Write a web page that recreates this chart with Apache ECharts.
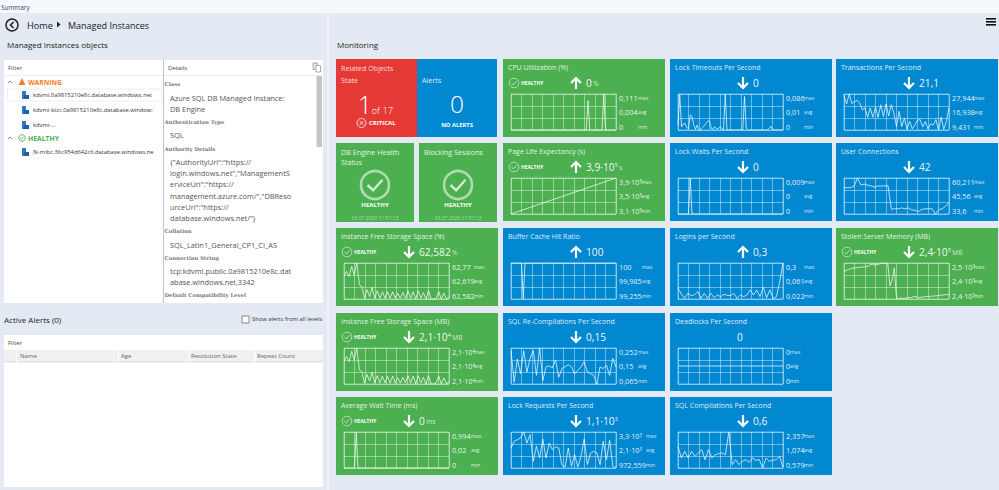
<!DOCTYPE html>
<html>
<head>
<meta charset="utf-8">
<title>Managed Instances</title>
<script src="https://cdn.jsdelivr.net/npm/echarts@6/dist/echarts.min.js"></script>
<style>
  html, body { margin: 0; padding: 0; background: #e4eaf3; }
  #main { width: 999px; height: 490px; }
</style>
</head>
<body>
<div id="main"></div>
<script>
// series
const cpuValues = [0,0,0,0,0,0,0,0,0,0,0,0,0,0,0,0,0,0,0,0,0,0,0,0,0,0,0,0,0,0,0,0,0,0,0,0,0,0,0,0,0,0,0,0,0.09,0,0,0,0,0,0,0,0,0.111,0,0,0,0,0,0,0]
const pageLifeValues = [310000,318000,326000,334000,342000,350000,358000,366000,374000,382000,390000]
const lockTimeoutValues = [0.012,0.084,0.008,0.014,0.016,0.006,0.003,0.036,0.032,0.012,0.002,0.012,0.001,0.001,0.006,0.01,0.016,0.021,0.022,0.004,0.001,0.008,0.003,0.003,0.008,0.003,0,0.086,0,0,0,0,0,0,0,0,0,0,0.08,0.004,0,0,0,0,0,0,0,0,0,0,0,0,0.003,0.009,0.002,0,0,0,0,0,0]
const lockWaitValues = [0,0,0,0,0,0,0,0.009,0,0,0,0,0,0,0,0,0,0,0,0,0,0,0,0,0,0,0,0,0,0,0,0,0,0,0,0,0,0,0,0,0,0,0,0,0,0,0,0,0,0,0,0,0,0,0,0,0,0,0,0,0]
const transactionValues = [27.3,22.9,27.944,23,24.1,24.7,23.3,19.8,20.7,16,20.7,16,21.2,16,22.4,16.4,22.9,16.7,22.4,18.1,11.2,19,11.2,15.5,9.8,13.8,10.1,12,14.4,14.8,11,13.8,10,12.6,12.1,14.8,9.431,16,9.8,13.8,20.8]
const userConnectionValues = [53.2,53,53.1,54.4,60.211,55,55.7,54.9,54.4,53.4,54.4,54.2,54.4,54.4,37,37.6,37.4,38.1,37.4,38.1,36.6,36.4,35.4,37.1,37.4,37.4,37.6,33.6,36.9,37.4,39.4,41.9]
const freePctValues = [62.70,62.726,62.70,62.752,62.708,62.77,62.656,62.647,62.586,62.63,62.594,62.643,62.586,62.625,62.586,62.62,62.586,62.62,62.586,62.62,62.586,62.612,62.586,62.615,62.586,62.625,62.586,62.62,62.582,62.625,62.586,62.615,62.582,62.625,62.582,62.582,62.586,62.62,62.582,62.612,62.582,62.594]
const freeMbValues = [21067,21076,21067,21085,21070,21091,21052,21049,21029,21044,21032,21048,21029,21042,21029,21041,21029,21041,21029,21041,21029,21038,21029,21039,21029,21042,21029,21041,21027,21042,21029,21039,21027,21042,21027,21027,21029,21041,21027,21038,21027,21032]
const bufferCacheValues = [100,100,100,100,100,100,100,99.255,100,100,100,100,100,100,100,100,100,100,100,100,100,100,100,100,100,100,100,100,100,100,100,100,100,100,100,100,100,100,100,100,100,100,100,100,100,100,100,100,100,100,100,100,100,100,100,100,100,100,100,100,100]
const recompileValues = [0.238,0.074,0.195,0.118,0.238,0.127,0.198,0.238,0.11,0.252,0.083,0.154,0.159,0.149,0.19,0.1,0.145,0.155,0.166,0.154,0.118,0.136,0.154,0.181,0.127,0.118,0.11,0.065,0.154,0.145,0.163,0.11,0.198,0.154]
const loginValues = [0.105,0.061,0.027,0.066,0.048,0.054,0.079,0.027,0.066,0.027,0.066,0.032,0.053,0.04,0.058,0.05,0.048,0.066,0.027,0.053,0.04,0.053,0.092,0.053,0.092,0.04,0.113,0.032,0.092,0.027,0.04,0.157,0.3]
const stolenValues = [2477,2479,2482,2484,2486,2486,2487,2488,2489,2489,2490,2491,2495,2497,2494,2496,2497,2500,2500,2500,2500,2437,2452,2486,2402,2402,2402,2402,2402,2403,2404,2404,2408,2406,2404,2405,2405,2406,2407,2407,2408,2408,2409,2409,2410,2411,2412,2412,2413]
const deadlockValues = [0,0,0,0,0,0,0,0,0,0,0]
const waitTimeValues = [0,0,0,0,0,0,0,0.994,0,0,0,0,0,0,0,0,0,0,0,0,0,0,0,0,0,0,0,0,0,0,0,0,0,0,0,0,0,0,0,0,0,0,0,0,0,0,0,0,0,0,0,0,0,0,0,0,0,0,0,0,0]
const lockRequestValues = [2266,2697,2804,2912,3300,2589,3128,1404,2373,1619,2847,1619,2589,2158,2330,2266,1188,1037,2266,1080,1835,1037,1727,2847,1188,1942,2050,1942,1188,2697,1511,2761,1080,973]
const compileValues = [1.649,1.073,1.402,1.073,1.402,1.155,1.32,1.484,0.99,1.484,1.073,1.237,1.287,1.32,1.237,2.357,0.744,0.99,0.744,0.908,0.99,0.859,1.073,0.958,0.99,0.579,1.073,0.908,0.958,0.99,1.155,0.628]

const GREEN = '#4caf50'
const BLUE = '#0288d1'
const RED = '#e53935'
const FONT = '"Open Sans", "Noto Sans", sans-serif'

// metric tiles: title, current value, unit, trend, label columns, series
const tiles = [
  { title: 'CPU Utilization (%)', x: 503, y: 59, color: GREEN, healthy: true, arrow: 'up', value: '0', unit: '%', labels: ['0,111', '0,004', '0'], unitX: 135, data: cpuValues, yMin: 0, yMax: 0.111 },
  { title: 'Lock Timeouts Per Second', x: 670, y: 59, color: BLUE, arrow: 'down', value: '0', labels: ['0,086', '0,01', '0'], unitX: 134, data: lockTimeoutValues, yMin: 0, yMax: 0.086 },
  { title: 'Transactions Per Second', x: 836, y: 59, color: BLUE, arrow: 'down', value: '21,1', labels: ['27,944', '16,938', '9,431'], unitX: 138, data: transactionValues, yMin: 9.431, yMax: 27.944 },
  { title: 'Page Life Expectancy (s)', x: 503, y: 143, color: GREEN, healthy: true, arrow: 'up', value: '3,9·10⁵', unit: 's', labels: ['3,9·10⁵', '3,5·10⁵', '3,1·10⁵'], unitX: 138, data: pageLifeValues, yMin: 310000, yMax: 390000 },
  { title: 'Lock Waits Per Second', x: 670, y: 143, color: BLUE, arrow: 'down', value: '0', labels: ['0,009', '0', '0'], unitX: 134, data: lockWaitValues, yMin: 0, yMax: 0.009 },
  { title: 'User Connections', x: 836, y: 143, color: BLUE, arrow: 'down', value: '42', labels: ['60,211', '45,56', '33,6'], unitX: 138, data: userConnectionValues, yMin: 33.6, yMax: 60.211 },
  { title: 'Instance Free Storage Space (%)', x: 336, y: 228, color: GREEN, healthy: true, arrow: 'down', value: '62,582', unit: '%', labels: ['62,77', '62,619', '62,582'], unitX: 138, data: freePctValues, yMin: 62.582, yMax: 62.77 },
  { title: 'Buffer Cache Hit Ratio', x: 503, y: 228, color: BLUE, arrow: 'up', value: '100', labels: ['100', '99,985', '99,255'], unitX: 139, data: bufferCacheValues, yMin: 99.255, yMax: 100 },
  { title: 'Logins per Second', x: 670, y: 228, color: BLUE, arrow: 'up', value: '0,3', labels: ['0,3', '0,061', '0,022'], unitX: 134, data: loginValues, yMin: 0.022, yMax: 0.3 },
  { title: 'Stolen Server Memory (MB)', x: 836, y: 228, color: GREEN, healthy: true, arrow: 'down', value: '2,4·10³', unit: 'MB', labels: ['2,5·10³', '2,4·10³', '2,4·10³'], unitX: 138, data: stolenValues, yMin: 2400, yMax: 2500 },
  { title: 'Instance Free Storage Space (MB)', x: 336, y: 313, color: GREEN, healthy: true, arrow: 'down', value: '2,1·10⁴', unit: 'MB', labels: ['2,1·10⁴', '2,1·10⁴', '2,1·10⁴'], unitX: 138, data: freeMbValues, yMin: 21027, yMax: 21091 },
  { title: 'SQL Re-Compilations Per Second', x: 503, y: 313, color: BLUE, arrow: 'down', value: '0,15', labels: ['0,252', '0,15', '0,065'], unitX: 135, data: recompileValues, yMin: 0.065, yMax: 0.252 },
  { title: 'Deadlocks Per Second', x: 670, y: 313, color: BLUE, value: '0', labels: ['0', '0', '0'], unitX: 120, data: deadlockValues, yMin: -1, yMax: 1 },
  { title: 'Average Wait Time (ms)', x: 336, y: 397, color: GREEN, healthy: true, arrow: 'down', value: '0', unit: 'ms', labels: ['0,994', '0,02', '0'], unitX: 135, data: waitTimeValues, yMin: 0, yMax: 0.994 },
  { title: 'Lock Requests Per Second', x: 503, y: 397, color: BLUE, arrow: 'down', value: '1,1·10³', labels: ['3,3·10³', '2,1·10³', '972,559'], unitX: 143, data: lockRequestValues, yMin: 972.559, yMax: 3300 },
  { title: 'SQL Compilations Per Second', x: 670, y: 397, color: BLUE, arrow: 'down', value: '0,6', labels: ['2,357', '1,074', '0,579'], unitX: 134, data: compileValues, yMin: 0.579, yMax: 2.357 },
]
const unitNames = ['max', 'avg', 'min']

const detailLabels = [['Class', 84], ['Authentication Type', 122], ['Authority Details', 149], ['Collation', 231], ['Connection String', 258], ['Default Compatibility Level', 295]]
const detailLines = [
  ['Azure SQL DB Managed Instance:', 98], ['DB Engine', 109], ['SQL', 135],
  ['{"AuthorityUri":"https://', 162], ['login.windows.net","ManagementS', 173], ['erviceUri":"https://', 184],
  ['management.azure.com/","DBReso', 196], ['urceUri":"https://', 207], ['database.windows.net/"}', 218],
  ['SQL_Latin1_General_CP1_CI_AS', 245], ['tcp:kdvmi.public.0a9815210e8c.dat', 271], ['abase.windows.net,3342', 282],
]
const treeItems = [['kdvmi.0a9815210e8c.database.windows.net', 95], ['kdvmi-bizc.0a9815210e8c.database.window:', 110], ['kdvmi-...', 125], ['fk-mibc.36c954d642c6.database.windows.ne', 152]]
const alertColumns = [['Name', 20], ['Age', 121], ['Resolution State', 191], ['Repeat Count', 257]]

function txt(x, y, text, size, fill, extra) {
  const o = extra || {}
  return {
    type: 'text', x, y, silent: true, z: 5,
    style: { text, fill, font: (o.weight || 'normal') + ' ' + size + 'px ' + (o.family || FONT), textAlign: o.align || 'left', textVerticalAlign: 'middle' },
  }
}
// "3,9·10⁵" becomes rich text so the exponent is set small and raised
const SUPERS = { '³': '3', '⁴': '4', '⁵': '5' }
function richValue(x, y, value, unit, size, supSize, unitSize, fill) {
  const m = value.match(/[³⁴⁵]/)
  let text = m ? '{v|' + value.replace(m[0], '') + '}{s|' + SUPERS[m[0]] + '}' : '{v|' + value + '}'
  if (unit) text += '{g| }{u|' + unit + '}'
  const el = txt(x, y, text, size, fill)
  el.style.rich = {
    v: { fontSize: size, fontFamily: FONT, fill, verticalAlign: 'middle' },
    s: { fontSize: supSize, fontFamily: FONT, fill, verticalAlign: 'top', padding: [0, 0, size * 0.3, 0] },
    g: { fontSize: size * 0.5, fontFamily: FONT },
    u: { fontSize: unitSize, fontFamily: FONT, fill: 'rgba(255,255,255,0.75)', verticalAlign: 'middle' },
  }
  return el
}
function box(x, y, w, h, fill, stroke) {
  return { type: 'rect', silent: true, z: -10, shape: { x, y, width: w, height: h }, style: { fill, stroke: stroke || 'none', lineWidth: 1 } }
}
function line(points, stroke, width) {
  return { type: 'polyline', silent: true, z: 5, shape: { points }, style: { stroke, fill: 'none', lineWidth: width || 1 } }
}
function ring(cx, cy, r, stroke, width) {
  return { type: 'circle', silent: true, z: 5, shape: { cx, cy, r }, style: { stroke, fill: 'none', lineWidth: width || 1 } }
}
function checkMark(cx, cy, s, stroke, width) {
  return line([[cx - s, cy], [cx - s * 0.25, cy + s * 0.7], [cx + s, cy - s * 0.7]], stroke, width)
}
function dbIcon(x, y) {
  return [
    { type: 'rect', silent: true, z: 5, shape: { x: x, y: y - 4, width: 4, height: 8 }, style: { fill: '#2e78c4' } },
    { type: 'rect', silent: true, z: 5, shape: { x: x + 2, y: y, width: 5, height: 4 }, style: { fill: '#1d5fa8' } },
  ]
}

const g = []
// page chrome
g.push(box(0, 0, 999, 13, '#f6f8fc'))
g.push(box(327, 13, 2, 477, '#eef2f8'))
g.push(txt(1, 7, 'Summary', 6.4, '#3d3a6e'))
g.push(ring(12, 25, 6, '#222', 1.4), line([[13.5, 22], [10.5, 25], [13.5, 28]], '#222', 1.6))
g.push(txt(27, 25, 'Home', 9.2, '#222'))
g.push({ type: 'polygon', silent: true, z: 5, shape: { points: [[57, 21.5], [60.5, 24.5], [57, 27.5]] }, style: { fill: '#222' } })
g.push(txt(68, 25, 'Managed Instances', 9, '#222'))
g.push(box(986, 18, 10, 1.6, '#111'), box(986, 21, 10, 1.6, '#111'), box(986, 24, 10, 1.6, '#111'))
g.push(txt(7, 44, 'Managed Instances objects', 8, '#222'))
g.push(txt(337, 44, 'Monitoring', 8, '#222'))

// objects panel
g.push(box(4, 60, 319, 243, '#ffffff'))
g.push(line([[4, 75.5], [323, 75.5]], '#eceef1'))
g.push(line([[163.5, 60], [163.5, 303]], '#b4c7da'))
g.push(txt(8, 68, 'Filter', 6, '#444'), txt(168, 68, 'Details', 6, '#444'))
g.push({ type: 'rect', silent: true, z: 5, shape: { x: 313, y: 63, width: 4.5, height: 6.5 }, style: { fill: '#e8e8e8', stroke: '#aaa' } },
  { type: 'rect', silent: true, z: 5, shape: { x: 316, y: 65.5, width: 4.5, height: 6.5 }, style: { fill: '#fff', stroke: '#aaa' } })
g.push(box(7.5, 89, 154, 12, '#ffffff', '#eeeeee'))
g.push(line([[8, 83], [10, 81], [12, 83]], '#888'), line([[8, 139], [10, 137], [12, 139]], '#888'))
g.push({ type: 'polygon', silent: true, z: 5, shape: { points: [[22, 78], [25.5, 85], [18.5, 85]] }, style: { fill: '#f0802c' } })
g.push(txt(28, 82, 'WARNING', 6.8, '#f0802c', { weight: 'bold' }))
g.push(ring(22, 138, 3.3, '#4caf50', 0.9), checkMark(22, 138, 1.7, '#4caf50', 0.9))
g.push(txt(28, 138, 'HEALTHY', 6.8, '#4caf50', { weight: 'bold' }))
treeItems.forEach((item) => {
  g.push(...dbIcon(22, item[1]))
  g.push(txt(33, item[1], item[0], 5.8, '#333'))
})
detailLabels.forEach((item) => g.push(txt(164.5, item[1], item[0], 5.3, '#777', { weight: 'bold', family: '"DejaVu Serif", serif' })))
detailLines.forEach((item) => g.push(txt(170, item[1], item[0], 7.4, '#555')))
g.push(box(316.5, 76, 5.5, 71, '#c4c4c4'))

// alerts panel
g.push(txt(4, 319, 'Active Alerts (0)', 8, '#222'))
g.push(box(242, 316, 7, 7, '#ffffff', '#888'))
g.push(txt(252, 319, 'Show alerts from all levels', 5.8, '#333'))
g.push(box(4, 335, 319, 152, '#ffffff'))
g.push(txt(8, 343, 'Filter', 6, '#444'))
g.push(box(4, 350, 319, 12, '#f0f0f0'))
g.push(line([[4, 362], [323, 362]], '#dddddd'))
alertColumns.forEach((c) => g.push(txt(c[1], 356, c[0], 6, '#666')))
;[16.5, 118.5, 189, 255].forEach((x) => g.push(line([[x, 350], [x, 362]], '#ffffff')))

// state tiles
g.push(box(336, 59, 81, 78, RED), box(417, 59, 80, 78, BLUE))
g.push(txt(341, 68, 'Related Objects', 7.2, '#f7dcdc'), txt(341, 80, 'State', 7.2, '#f7dcdc'))
g.push(txt(365, 104, '1', 25, '#fff', { align: 'center', weight: '300' }))
g.push(txt(371.5, 110, 'of 17', 9.5, '#fff', { weight: '300' }))
g.push(ring(361.5, 123, 4.5, '#fff', 0.8), line([[359.5, 121], [363.5, 125]], '#fff', 0.8), line([[363.5, 121], [359.5, 125]], '#fff', 0.8))
g.push(txt(369, 123, 'CRITICAL', 6, '#fff', { weight: 'bold' }))
g.push(txt(422, 80, 'Alerts', 7.2, '#dcedf8'))
g.push(txt(457, 103, '0', 24.5, '#fff', { align: 'center', weight: '300' }))
g.push(txt(457, 124.5, 'NO ALERTS', 5.8, '#fff', { weight: 'bold', align: 'center' }))

// health tiles
;[[336, 78, ['DB Engine Health', 'Status'], 375], [419, 78, ['Blocking Sessions'], 458]].forEach((t) => {
  g.push(box(t[0], 143, t[1], 79, GREEN))
  t[2].forEach((s, i) => g.push(txt(t[0] + 5, 152 + i * 9.6, s, 7.2, '#e6f4e6')))
  g.push(ring(t[3], 185, 14, 'rgba(255,255,255,0.55)', 2.6), checkMark(t[3], 185, 7.5, 'rgba(255,255,255,0.75)', 2.4))
  g.push(txt(t[3], 205, 'HEALTHY', 6, '#fff', { weight: 'bold', align: 'center' }))
  g.push(txt(t[3], 218, '03.07.2020 11:51:12', 5, 'rgba(255,255,255,0.55)', { align: 'center' }))
})

const TILE_W = 162
const TILE_H = 78
const grids = []
const xAxes = []
const yAxes = []
const series = []

tiles.forEach((t, i) => {
  const gridColor = 'rgba(255,255,255,0.42)'
  const n = t.data.length - 1
  g.push(box(t.x, t.y, TILE_W, TILE_H, t.color))
  g.push(txt(t.x + 5, t.y + 8, t.title, 7, 'rgba(255,255,255,0.88)'))
  if (t.healthy) {
    g.push(ring(t.x + 11, t.y + 24, 4.8, 'rgba(255,255,255,0.8)', 0.7), checkMark(t.x + 11, t.y + 24, 2.6, 'rgba(255,255,255,0.8)', 0.8))
    g.push(txt(t.x + 18, t.y + 24, 'HEALTHY', 4.9, '#fff', { weight: 'bold' }))
  }
  const ax = t.x + 73
  const ay = t.y + 24
  if (t.arrow === 'up') {
    g.push(line([[ax, ay + 6], [ax, ay - 5]], '#fff', 2.2), line([[ax - 5, ay], [ax, ay - 5], [ax + 5, ay]], '#fff', 2.2))
  } else if (t.arrow === 'down') {
    g.push(line([[ax, ay - 6], [ax, ay + 5]], '#fff', 2.2), line([[ax - 5, ay], [ax, ay + 5], [ax + 5, ay]], '#fff', 2.2))
  }
  if (t.arrow) {
    g.push(richValue(t.x + 83, ay, t.value, t.unit, 10.2, 6, 6.5, 'rgba(255,255,255,0.95)'))
  } else {
    g.push(txt(t.x + 70, ay, t.value, 10.2, 'rgba(255,255,255,0.95)', { align: 'center' }))
  }
  // stat columns beside the spark line
  t.labels.forEach((label, k) => {
    const ly = t.y + 39 + k * 14.3
    g.push(richValue(t.x + 116, ly, label, null, 7.3, 4.5, 5, 'rgba(255,255,255,0.9)'))
    g.push(txt(t.x + t.unitX, ly, unitNames[k], 5.2, 'rgba(255,255,255,0.85)'))
  })

  grids.push({ left: t.x + 8, top: t.y + 35, width: 105, height: 36, show: true, borderColor: gridColor, borderWidth: 1, backgroundColor: 'transparent' })
  xAxes.push({
    gridIndex: i, type: 'value', min: 0, max: n, interval: n / 10,
    axisLine: { show: false }, axisLabel: { show: false }, axisTick: { show: false },
    splitLine: { show: true, lineStyle: { color: gridColor, width: 1 } },
  })
  // the values get their own axis; the three grid rows come from a second one, because interval counts from min
  yAxes.push({
    gridIndex: i, type: 'value', min: t.yMin, max: t.yMax,
    axisLine: { show: false }, axisLabel: { show: false }, axisTick: { show: false }, splitLine: { show: false },
  })
  yAxes.push({
    gridIndex: i, type: 'value', position: 'right', min: 0, max: 3, interval: 1,
    axisLine: { show: false }, axisLabel: { show: false }, axisTick: { show: false },
    splitLine: { show: true, lineStyle: { color: gridColor, width: 1 } },
  })
  series.push({
    name: t.title, type: 'line', xAxisIndex: i, yAxisIndex: i * 2, showSymbol: false, silent: true,
    lineStyle: { color: 'rgba(255,255,255,0.72)', width: 1 },
    data: t.data.map((v, k) => [k, v]),
  })
})

const myChart = echarts.init(document.getElementById('main'), null, { renderer: 'svg' })
myChart.setOption({
  animation: false,
  backgroundColor: '#e4eaf3',
  tooltip: { show: false },
  graphic: { elements: g },
  grid: grids,
  xAxis: xAxes,
  yAxis: yAxes,
  series,
})
</script>
</body>
</html>
